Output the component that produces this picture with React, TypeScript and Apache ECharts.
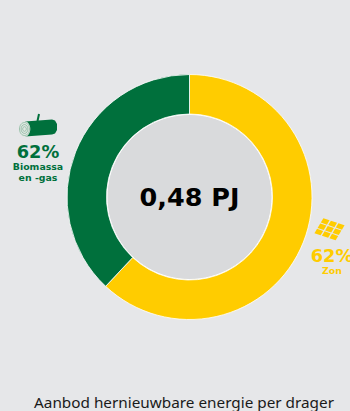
import React, { useEffect, useRef } from "react";
import * as echarts from "echarts";

const categories = ["Zon", "Biomassa en -gas"];
const values = [62, 38];
const colors = ["#ffcc00", "#00703c"];
const centerText = "0,48 PJ";
const title = "Aanbod hernieuwbare energie per drager";
const shownPercent = "62%";

const CX = 189.5, CY = 197;
const BOLD = "'DejaVu Sans', sans-serif";

// solar panel icon: skewed 3x3 grid
function solarCells() {
  const p = (u: number, v: number) => {
    const ox = 323, oy = 217.5; // top corner
    const ax = 22.5, ay = 7.5; // along u
    const bx = -9.5, by = 16; // along v
    return [ox + ax * u + bx * v, oy + ay * u + by * v];
  };
  const out: any[] = [];
  const g = 0.03;
  for (let i = 0; i < 3; i++) {
    for (let j = 0; j < 3; j++) {
      const u0 = i / 3 + g, u1 = (i + 1) / 3 - g, v0 = j / 3 + g, v1 = (j + 1) / 3 - g;
      out.push({
        type: "polygon",
        shape: { points: [p(u0, v0), p(u1, v0), p(u1, v1), p(u0, v1)] },
        style: { fill: colors[0] },
      });
    }
  }
  return out;
}

function logIcon() {
  const g = colors[1];
  const rings = [5, 3.4, 1.8].map((r) => ({
    type: "ellipse",
    shape: { cx: 24.5, cy: 129, rx: r, ry: r * 1.3 },
    style: { fill: "none", stroke: "#7fb096", lineWidth: 0.7 },
  }));
  return [
    { type: "line", shape: { x1: 37.5, y1: 121, x2: 39, y2: 114 }, style: { stroke: g, lineWidth: 2 } },
    {
      type: "polygon",
      shape: { points: [[25, 121.5], [52, 119.5], [55, 120.5], [57, 124], [57, 130], [55, 133.5], [52, 134.5], [25, 136.5]] },
      style: { fill: g },
    },
    { type: "ellipse", shape: { cx: 24.5, cy: 129, rx: 5.8, ry: 7.8 }, style: { fill: "#dfe8e2" } },
    ...rings,
  ];
}

function text(x: number, y: number, t: string, size: number, fill: string, weight: any = "bold", family = BOLD) {
  return {
    type: "text",
    x,
    y,
    style: { text: t, fontSize: size, fontFamily: family, fontWeight: weight, fill, textAlign: "center", textVerticalAlign: "middle" },
  };
}

export default function App() {
  const ref = useRef<HTMLDivElement>(null);
  useEffect(() => {
    const chart = echarts.init(ref.current!, undefined, { renderer: "svg" });
    chart.setOption({
      animation: false,
      backgroundColor: "#e6e7e9",
      series: [
        {
          type: "pie",
          silent: true,
          center: [CX, CY],
          radius: [83, 122.5],
          startAngle: 90,
          clockwise: true,
          label: { show: false },
          labelLine: { show: false },
          itemStyle: { borderColor: "#ffffff", borderWidth: 0.8 },
          data: categories.map((name, i) => ({ name, value: values[i], itemStyle: { color: colors[i] } })),
        },
      ],
      graphic: [
        { type: "circle", shape: { cx: CX, cy: CY, r: 82.5 }, style: { fill: "#d9dadc", stroke: "#ffffff", lineWidth: 1 } },
        text(CX, 197, centerText, 25.5, "#000000"),
        ...logIcon(),
        text(38, 151, shownPercent, 17.8, colors[1]),
        text(38, 166, "Biomassa", 9.4, colors[1]),
        text(38, 177, "en -gas", 9.4, colors[1]),
        ...solarCells(),
        text(332, 255, shownPercent, 17.8, colors[0]),
        text(332, 270, categories[0], 9.4, colors[0]),
        text(184, 402, title, 15.3, "#1a1a1a", "normal", "'Noto Sans', sans-serif"),
      ],
    });
    return () => chart.dispose();
  }, []);
  return <div ref={ref} style={{ position: "fixed", left: 0, top: 0, width: 350, height: 411 }} />;
}
